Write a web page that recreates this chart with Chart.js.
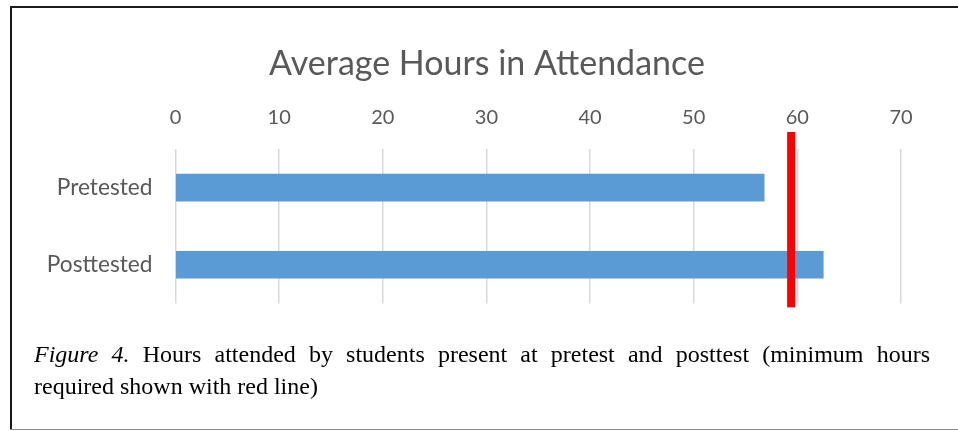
<!DOCTYPE html>
<html>
<head>
<meta charset="utf-8">
<script src="https://cdn.jsdelivr.net/npm/chart.js@4"></script>
<style>
  body { margin: 0; background: #fff; }
  #frame { position: relative; width: 958px; height: 431px; overflow: hidden; }
  #top-border { position: absolute; left: 10px; top: 6px; width: 948px; height: 2px; background: #1a1a1a; }
  #left-border { position: absolute; left: 10px; top: 6px; width: 2px; height: 424px; background: #1a1a1a; }
  #bottom-border { position: absolute; left: 10px; top: 429px; width: 948px; height: 1px; background: #8a8a8a; }
  #chart { position: absolute; left: 0; top: 0; }
  #caption {
    position: absolute; left: 34px; top: 338px; width: 896px;
    font-family: "Liberation Serif", "Times New Roman", serif;
    font-size: 24px; line-height: 32px; color: #000;
  }
  #caption .first { text-align: justify; text-align-last: justify; }
</style>
</head>
<body>
<div id="frame">
  <canvas id="chart" width="958" height="340"></canvas>
  <div id="top-border"></div>
  <div id="left-border"></div>
  <div id="bottom-border"></div>
  <div id="caption">
    <div class="first"><i>Figure 4.</i> Hours attended by students present at pretest and posttest (minimum hours</div>
    <div>required shown with red line)</div>
  </div>
</div>
<script>
const categories = ['Pretested', 'Posttested'];
const avgHours = [56.8, 62.5];
const minHours = 59.4;
const xTicks = [0, 10, 20, 30, 40, 50, 60, 70];

const labelColor = '#595959';

// red marker for the minimum required hours
const minLine = {
    id: 'minLine',
    afterDatasetsDraw(chart) {
        const { ctx, chartArea, scales } = chart;
        const x = scales.x.getPixelForValue(minHours);
        ctx.save();
        ctx.fillStyle = '#ff0000';
        ctx.fillRect(x - 4, chartArea.top - 17, 8, chartArea.bottom - chartArea.top + 21);
        ctx.restore();
    }
};

new Chart(document.getElementById('chart').getContext('2d'), {
    type: 'bar',
    data: {
        labels: categories,
        datasets: [{
            label: 'Average Hours',
            data: avgHours,
            backgroundColor: '#5b9bd5',
            barThickness: 27
        }]
    },
    options: {
        indexAxis: 'y',
        responsive: false,
        animation: false,
        layout: { padding: { left: 40, right: 24, top: 0, bottom: 0 } },
        plugins: {
            legend: { display: false },
            tooltip: { enabled: false },
            title: {
                display: true,
                text: 'Average Hours in Attendance',
                color: labelColor,
                font: { family: 'Lato', size: 34, weight: 'normal' },
                padding: { top: 44, bottom: 10 }
            }
        },
        scales: {
            x: {
                position: 'top',
                min: xTicks[0],
                max: xTicks[xTicks.length - 1],
                afterBuildTicks: (scale) => { scale.ticks = xTicks.map(v => ({ value: v })); },
                afterFit: (scale) => { scale.height = 54.2; },
                grid: { color: '#d9d9d9', lineWidth: 1.5, drawTicks: false },
                border: { display: false },
                ticks: { color: labelColor, font: { family: 'Lato', size: 20 }, padding: 19 }
            },
            y: {
                afterFit: (scale) => { scale.width = 135.5; },
                grid: { display: false, drawTicks: false },
                border: { display: false },
                ticks: { color: labelColor, font: { family: 'Lato', size: 22.7 }, padding: 23 }
            },
            // empty right-hand spacer so the title centres like the original
            yr: {
                type: 'category',
                position: 'right',
                afterFit: (scale) => { scale.width = 33; },
                grid: { display: false, drawTicks: false },
                border: { display: false },
                ticks: { display: false }
            }
        }
    },
    plugins: [minLine]
});
</script>
</body>
</html>
